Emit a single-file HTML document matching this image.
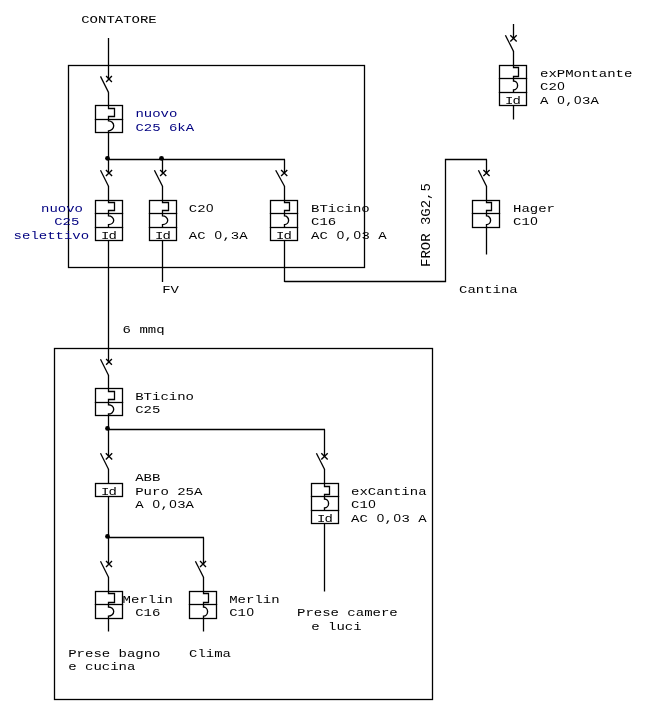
<!DOCTYPE html>
<html><head><meta charset="utf-8"><title>Schema</title>
<style>
html,body{margin:0;padding:0;background:#fff;}
svg{display:block;will-change:transform}
.l{stroke:#000;stroke-width:1.3;fill:none}
.a{stroke:#000;stroke-width:1.35;fill:none}
.d{stroke-width:1.3}
.n{fill:none}
.f{stroke:#000;stroke-width:1;stroke-opacity:.18;fill:none}
.t{font-family:"Liberation Mono","DejaVu Sans Mono",monospace;font-size:11.5px;fill:#000}
.b{fill:#000080}
.m{text-anchor:middle}
.z{font-family:"Liberation Sans",sans-serif;font-size:11px}
.i{letter-spacing:-0.8px}
</style></head><body>
<svg width="646" height="716" viewBox="0 0 646 716">
<rect x="0" y="0" width="646" height="716" fill="#fff"/>
<rect class="l" x="68.5" y="65.5" width="296" height="202"/>
<rect class="l" x="54.5" y="348.5" width="378" height="351"/>
<line class="l" x1="108.5" y1="38" x2="108.5" y2="79.3"/>
<path class="a" d="M106.10 76.10L111.90 81.90M111.90 76.10L106.10 81.90"/>
<path class="a d" d="M100.50 76.40L108.50 92.40"/>
<line class="l" x1="108.5" y1="92.10000000000001" x2="108.5" y2="105.5"/>
<rect class="l" x="95.5" y="105.5" width="27" height="27"/>
<line class="l" x1="95.5" y1="119.5" x2="122.5" y2="119.5"/>
<line class="f" x1="94.0" y1="119.5" x2="124.0" y2="119.5"/>
<path class="l n" d="M108.5 105.5V108.5H114.5V116.5H108.5V119.5"/>
<path class="a n" d="M108.5 119.5V120.80A5.2 5.00 0 0 1 108.5 130.80V132.5"/>
<line class="l" x1="108.5" y1="132.5" x2="108.5" y2="159.5"/>
<line class="l" x1="108.5" y1="159.5" x2="285" y2="159.5"/>
<circle cx="107.5" cy="158.3" r="2.4" fill="#000"/>
<circle cx="161.5" cy="158.3" r="2.4" fill="#000"/>
<line class="l" x1="108.5" y1="159.5" x2="108.5" y2="173.3"/>
<path class="a" d="M105.90 169.90L112.10 176.10M112.10 169.90L105.90 176.10"/>
<path class="a d" d="M100.50 170.20L108.50 186.20"/>
<line class="l" x1="108.5" y1="185.89999999999998" x2="108.5" y2="200.5"/>
<rect class="l" x="95.5" y="200.5" width="27" height="40"/>
<line class="l" x1="95.5" y1="213.5" x2="122.5" y2="213.5"/>
<line class="f" x1="94.0" y1="213.5" x2="124.0" y2="213.5"/>
<path class="l n" d="M108.5 200.5V202.5H114.5V210.5H108.5V213.5"/>
<path class="a n" d="M108.5 213.5V215.90A5.2 4.35 0 0 1 108.5 224.60V227.5"/>
<line class="l" x1="95.5" y1="227.5" x2="122.5" y2="227.5"/>
<line class="f" x1="94.0" y1="227.5" x2="124.0" y2="227.5"/>
<text class="t i" transform="translate(101.10 238.90) scale(1.2174 1)">Id</text>
<line class="l" x1="108.5" y1="240.5" x2="108.5" y2="335"/>
<line class="l" x1="162.5" y1="159.5" x2="162.5" y2="173.3"/>
<path class="a" d="M160.10 169.90L166.30 176.10M166.30 169.90L160.10 176.10"/>
<path class="a d" d="M154.40 170.20L162.50 186.20"/>
<line class="l" x1="162.5" y1="185.89999999999998" x2="162.5" y2="200.5"/>
<rect class="l" x="149.5" y="200.5" width="27" height="40"/>
<line class="l" x1="149.5" y1="213.5" x2="176.5" y2="213.5"/>
<line class="f" x1="148.0" y1="213.5" x2="178.0" y2="213.5"/>
<path class="l n" d="M162.5 200.5V202.5H168.5V210.5H162.5V213.5"/>
<path class="a n" d="M162.5 213.5V215.90A5.2 4.35 0 0 1 162.5 224.60V227.5"/>
<line class="l" x1="149.5" y1="227.5" x2="176.5" y2="227.5"/>
<line class="f" x1="148.0" y1="227.5" x2="178.0" y2="227.5"/>
<text class="t i" transform="translate(155.10 238.90) scale(1.2174 1)">Id</text>
<line class="l" x1="162.5" y1="240.5" x2="162.5" y2="282"/>
<line class="l" x1="284.5" y1="159.5" x2="284.5" y2="173.3"/>
<path class="a" d="M281.10 169.90L287.30 176.10M287.30 169.90L281.10 176.10"/>
<path class="a d" d="M275.70 170.20L284.50 186.20"/>
<line class="l" x1="284.5" y1="185.89999999999998" x2="284.5" y2="200.5"/>
<rect class="l" x="270.5" y="200.5" width="27" height="40"/>
<line class="l" x1="270.5" y1="213.5" x2="297.5" y2="213.5"/>
<line class="f" x1="269.0" y1="213.5" x2="299.0" y2="213.5"/>
<path class="l n" d="M284.5 200.5V202.5H289.5V210.5H284.5V213.5"/>
<path class="a n" d="M284.5 213.5V215.90A4.1 4.35 0 0 1 284.5 224.60V227.5"/>
<line class="l" x1="270.5" y1="227.5" x2="297.5" y2="227.5"/>
<line class="f" x1="269.0" y1="227.5" x2="299.0" y2="227.5"/>
<text class="t i" transform="translate(276.10 238.90) scale(1.2174 1)">Id</text>
<line class="l" x1="284.5" y1="240.5" x2="284.5" y2="282"/>
<path class="l n" d="M284.5 281.5H445.5V159.5H487"/>
<line class="l" x1="486.5" y1="159.5" x2="486.5" y2="173.3"/>
<path class="a" d="M483.40 169.90L489.60 176.10M489.60 169.90L483.40 176.10"/>
<path class="a d" d="M478.40 170.20L486.50 186.20"/>
<line class="l" x1="486.5" y1="185.89999999999998" x2="486.5" y2="200.5"/>
<rect class="l" x="472.5" y="200.5" width="27" height="27"/>
<line class="l" x1="472.5" y1="213.5" x2="499.5" y2="213.5"/>
<line class="f" x1="471.0" y1="213.5" x2="501.0" y2="213.5"/>
<path class="l n" d="M486.5 200.5V202.5H491.5V210.5H486.5V213.5"/>
<path class="a n" d="M486.5 213.5V215.90A4.1 4.35 0 0 1 486.5 224.60V227.5"/>
<line class="l" x1="486.5" y1="227.5" x2="486.5" y2="254.5"/>
<line class="l" x1="513.5" y1="24" x2="513.5" y2="38.699999999999996"/>
<path class="a" d="M510.30 35.20L516.70 41.60M516.70 35.20L510.30 41.60"/>
<path class="a d" d="M505.40 35.30L513.50 51.20"/>
<line class="l" x1="513.5" y1="50.900000000000006" x2="513.5" y2="65.5"/>
<rect class="l" x="499.5" y="65.5" width="27" height="40"/>
<line class="l" x1="499.5" y1="78.5" x2="526.5" y2="78.5"/>
<line class="f" x1="498.0" y1="78.5" x2="528.0" y2="78.5"/>
<path class="l n" d="M513.5 65.5V67.5H518.5V76.5H513.5V78.5"/>
<path class="a n" d="M513.5 78.5V81.00A4.1 4.40 0 0 1 513.5 89.80V92.5"/>
<line class="l" x1="499.5" y1="92.5" x2="526.5" y2="92.5"/>
<line class="f" x1="498.0" y1="92.5" x2="528.0" y2="92.5"/>
<text class="t i" transform="translate(505.10 103.90) scale(1.2174 1)">Id</text>
<line class="l" x1="513.5" y1="105.5" x2="513.5" y2="119.5"/>
<line class="l" x1="108.5" y1="335" x2="108.5" y2="362.2"/>
<path class="a" d="M106.10 359.00L111.90 364.80M111.90 359.00L106.10 364.80"/>
<path class="a d" d="M100.50 359.20L108.50 375.20"/>
<line class="l" x1="108.5" y1="374.9" x2="108.5" y2="388.5"/>
<rect class="l" x="95.5" y="388.5" width="27" height="27"/>
<line class="l" x1="95.5" y1="402.5" x2="122.5" y2="402.5"/>
<line class="f" x1="94.0" y1="402.5" x2="124.0" y2="402.5"/>
<path class="l n" d="M108.5 388.5V391.5H114.5V399.5H108.5V402.5"/>
<path class="a n" d="M108.5 402.5V404.70A5.2 4.65 0 0 1 108.5 414.00V415.5"/>
<line class="l" x1="108.5" y1="415.5" x2="108.5" y2="429.5"/>
<line class="l" x1="108.5" y1="429.5" x2="325" y2="429.5"/>
<circle cx="107.5" cy="428.4" r="2.4" fill="#000"/>
<line class="l" x1="108.5" y1="429.5" x2="108.5" y2="456.7"/>
<path class="a" d="M105.80 453.20L112.20 459.60M112.20 453.20L105.80 459.60"/>
<path class="a d" d="M100.50 453.30L108.50 469.20"/>
<line class="l" x1="108.5" y1="468.9" x2="108.5" y2="483.5"/>
<rect class="l" x="95.5" y="483.5" width="27" height="13"/>
<text class="t i" transform="translate(101.10 494.80) scale(1.2174 1)">Id</text>
<line class="l" x1="108.5" y1="496.5" x2="108.5" y2="537.5"/>
<line class="l" x1="108.5" y1="537.5" x2="204" y2="537.5"/>
<circle cx="107.5" cy="536.4" r="2.4" fill="#000"/>
<line class="l" x1="108.5" y1="537.5" x2="108.5" y2="564.3"/>
<path class="a" d="M106.00 561.00L112.00 567.00M112.00 561.00L106.00 567.00"/>
<path class="a d" d="M100.50 561.30L108.50 577.20"/>
<line class="l" x1="108.5" y1="576.9000000000001" x2="108.5" y2="591.5"/>
<rect class="l" x="95.5" y="591.5" width="27" height="27"/>
<line class="l" x1="95.5" y1="604.5" x2="122.5" y2="604.5"/>
<line class="f" x1="94.0" y1="604.5" x2="124.0" y2="604.5"/>
<path class="l n" d="M108.5 591.5V593.5H114.5V602.5H108.5V604.5"/>
<path class="a n" d="M108.5 604.5V607.00A5.2 4.55 0 0 1 108.5 616.10V618.5"/>
<line class="l" x1="108.5" y1="618.5" x2="108.5" y2="631.5"/>
<line class="l" x1="203.5" y1="537.5" x2="203.5" y2="564.3"/>
<path class="a" d="M200.00 561.00L206.00 567.00M206.00 561.00L200.00 567.00"/>
<path class="a d" d="M195.40 561.30L203.50 577.20"/>
<line class="l" x1="203.5" y1="576.9000000000001" x2="203.5" y2="591.5"/>
<rect class="l" x="189.5" y="591.5" width="27" height="27"/>
<line class="l" x1="189.5" y1="604.5" x2="216.5" y2="604.5"/>
<line class="f" x1="188.0" y1="604.5" x2="218.0" y2="604.5"/>
<path class="l n" d="M203.5 591.5V593.5H208.5V602.5H203.5V604.5"/>
<path class="a n" d="M203.5 604.5V607.00A4.1 4.55 0 0 1 203.5 616.10V618.5"/>
<line class="l" x1="203.5" y1="618.5" x2="203.5" y2="631.5"/>
<line class="l" x1="324.5" y1="429.5" x2="324.5" y2="456.7"/>
<path class="a" d="M321.30 453.20L327.70 459.60M327.70 453.20L321.30 459.60"/>
<path class="a d" d="M316.40 453.30L324.50 469.20"/>
<line class="l" x1="324.5" y1="468.9" x2="324.5" y2="483.5"/>
<rect class="l" x="311.5" y="483.5" width="27" height="40"/>
<line class="l" x1="311.5" y1="496.5" x2="338.5" y2="496.5"/>
<line class="f" x1="310.0" y1="496.5" x2="340.0" y2="496.5"/>
<path class="l n" d="M324.5 483.5V486.5H329.5V494.5H324.5V496.5"/>
<path class="a n" d="M324.5 496.5V499.00A4.1 4.40 0 0 1 324.5 507.80V510.5"/>
<line class="l" x1="311.5" y1="510.5" x2="338.5" y2="510.5"/>
<line class="f" x1="310.0" y1="510.5" x2="340.0" y2="510.5"/>
<text class="t i" transform="translate(317.10 521.90) scale(1.2174 1)">Id</text>
<line class="l" x1="324.5" y1="523.5" x2="324.5" y2="591.5"/>
<text class="t" transform="translate(81.2 23) scale(1.2174 1)" xml:space="preserve">CONTATORE</text>
<text class="t b" transform="translate(135.4 117) scale(1.2174 1)" xml:space="preserve">nuovo</text>
<text class="t b" transform="translate(135.4 130.8) scale(1.2174 1)" xml:space="preserve">C25 6kA</text>
<text class="t b" transform="translate(41 212) scale(1.2174 1)" xml:space="preserve">nuovo</text>
<text class="t b" transform="translate(54.2 225) scale(1.2174 1)" xml:space="preserve">C25</text>
<text class="t b" transform="translate(13.6 239) scale(1.2174 1)" xml:space="preserve">selettivo</text>
<text class="t" transform="translate(188.8 212) scale(1.2174 1)" x="0.00 6.90 14.19" xml:space="preserve">C2<tspan class="z">0</tspan></text>
<text class="t" transform="translate(188.8 238.9) scale(1.2174 1)" x="0.00 6.90 13.80 21.09 27.60 34.51 41.41" xml:space="preserve">AC <tspan class="z">0</tspan>,3A</text>
<text class="t" transform="translate(311 212) scale(1.2174 1)" xml:space="preserve">BTicino</text>
<text class="t" transform="translate(311 225.2) scale(1.2174 1)" xml:space="preserve">C16</text>
<text class="t" transform="translate(311 238.9) scale(1.2174 1)" x="0.00 6.90 13.80 21.09 27.60 34.90 41.41 48.31 55.21" xml:space="preserve">AC <tspan class="z">0</tspan>,<tspan class="z">0</tspan>3 A</text>
<text class="t" transform="translate(513 212) scale(1.2174 1)" xml:space="preserve">Hager</text>
<text class="t" transform="translate(513 225.2) scale(1.2174 1)" x="0.00 6.90 14.19" xml:space="preserve">C1<tspan class="z">0</tspan></text>
<text class="t" transform="translate(459 292.7) scale(1.2174 1)" xml:space="preserve">Cantina</text>
<text class="t" transform="translate(162.2 292.9) scale(1.2174 1)" xml:space="preserve">FV</text>
<text class="t" style="font-size:12px" transform="translate(429.9 267) rotate(-90) scale(1.1667 1)">FROR 3G2,5</text>
<text class="t" transform="translate(540 76.7) scale(1.2174 1)" xml:space="preserve">exPMontante</text>
<text class="t" transform="translate(540 90) scale(1.2174 1)" x="0.00 6.90 14.19" xml:space="preserve">C2<tspan class="z">0</tspan></text>
<text class="t" transform="translate(540 103.9) scale(1.2174 1)" x="0.00 6.90 14.19 20.70 27.99 34.51 41.41" xml:space="preserve">A <tspan class="z">0</tspan>,<tspan class="z">0</tspan>3A</text>
<text class="t" transform="translate(122.6 332.8) scale(1.2174 1)" xml:space="preserve">6 mmq</text>
<text class="t" transform="translate(135.2 399.5) scale(1.2174 1)" xml:space="preserve">BTicino</text>
<text class="t" transform="translate(135.2 413) scale(1.2174 1)" xml:space="preserve">C25</text>
<text class="t" transform="translate(135.2 481) scale(1.2174 1)" xml:space="preserve">ABB</text>
<text class="t" transform="translate(135.2 495) scale(1.2174 1)" xml:space="preserve">Puro 25A</text>
<text class="t" transform="translate(135.2 507.7) scale(1.2174 1)" x="0.00 6.90 14.19 20.70 27.99 34.51 41.41" xml:space="preserve">A <tspan class="z">0</tspan>,<tspan class="z">0</tspan>3A</text>
<text class="t" transform="translate(351 495) scale(1.2174 1)" xml:space="preserve">exCantina</text>
<text class="t" transform="translate(351 508) scale(1.2174 1)" x="0.00 6.90 14.19" xml:space="preserve">C1<tspan class="z">0</tspan></text>
<text class="t" transform="translate(351 521.9) scale(1.2174 1)" x="0.00 6.90 13.80 21.09 27.60 34.90 41.41 48.31 55.21" xml:space="preserve">AC <tspan class="z">0</tspan>,<tspan class="z">0</tspan>3 A</text>
<text class="t" transform="translate(122.6 602.5) scale(1.2174 1)" xml:space="preserve">Merlin</text>
<text class="t" transform="translate(135.2 616) scale(1.2174 1)" xml:space="preserve">C16</text>
<text class="t" transform="translate(229.2 602.5) scale(1.2174 1)" xml:space="preserve">Merlin</text>
<text class="t" transform="translate(229.2 616) scale(1.2174 1)" x="0.00 6.90 14.19" xml:space="preserve">C1<tspan class="z">0</tspan></text>
<text class="t" transform="translate(68.2 656.7) scale(1.2174 1)" xml:space="preserve">Prese bagno</text>
<text class="t" transform="translate(68.2 670) scale(1.2174 1)" xml:space="preserve">e cucina</text>
<text class="t" transform="translate(189 656.7) scale(1.2174 1)" xml:space="preserve">Clima</text>
<text class="t" transform="translate(297 615.6) scale(1.2174 1)" xml:space="preserve">Prese camere</text>
<text class="t" transform="translate(311.2 629.9) scale(1.2174 1)" xml:space="preserve">e luci</text>
</svg>
</body></html>
